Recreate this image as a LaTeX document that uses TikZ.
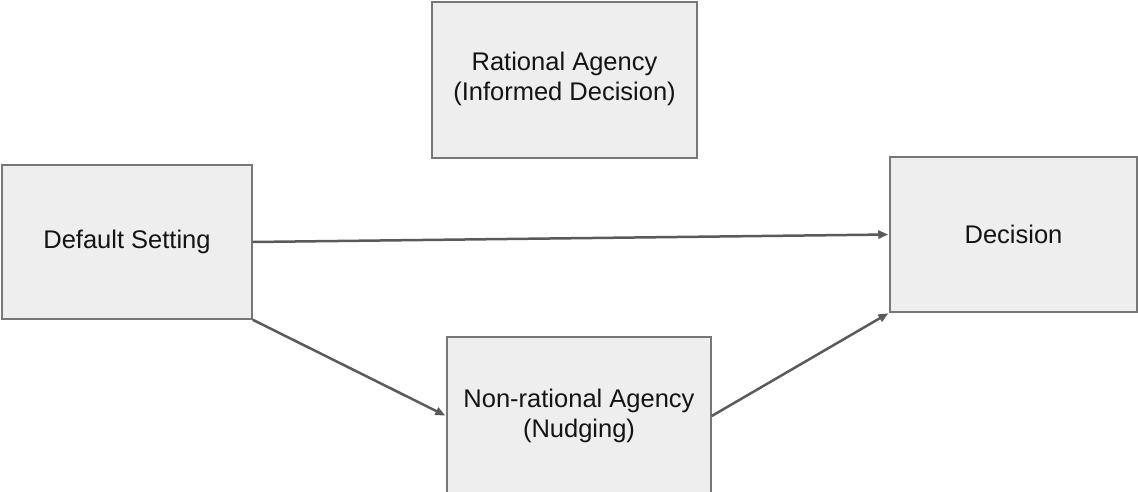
\documentclass[tikz,border=0pt]{standalone}
\usepackage{fontspec}
\setmainfont{Liberation Sans}
\usetikzlibrary{arrows.meta}
\definecolor{boxfill}{HTML}{EEEEEE}
\definecolor{boxline}{HTML}{777777}
\definecolor{arrowcol}{HTML}{5A5A5A}
\tikzset{
  box/.style={draw=boxline, fill=boxfill, line width=1.5pt, inner sep=0pt,
    align=center, font=\fontsize{25.5}{30}\selectfont, text=black!92},
  conn/.style={draw=arrowcol, line width=2.5pt,
    -{Triangle[length=10pt,width=8pt]}, shorten >=1pt}
}
\begin{document}
\begin{tikzpicture}[x=1pt,y=-1pt]
\useasboundingbox (0,0) rectangle (1138,492);
\node[box, minimum width=265pt, minimum height=156pt] (ra) at (564.5,80)
  {\raisebox{-3pt}{\begin{tabular}{@{}c@{}}Rational Agency\\[0pt](Informed Decision)\end{tabular}}};
\node[box, minimum width=250pt, minimum height=154pt] (ds) at (127,242)
  {\raisebox{-3pt}{Default Setting}};
\node[box, minimum width=247pt, minimum height=155pt] (dec) at (1013.5,234.5)
  {Decision};
\node[box, minimum width=264pt, minimum height=158pt] (nr) at (579,416)
  {\raisebox{-2pt}{\begin{tabular}{@{}c@{}}Non-rational Agency\\[0pt](Nudging)\end{tabular}}};
\draw[conn] (ds.east) -- (dec.west);
\draw[conn] (ds.south east) -- (nr.west);
\draw[conn] (nr.east) -- (dec.south west);
\end{tikzpicture}
\end{document}
